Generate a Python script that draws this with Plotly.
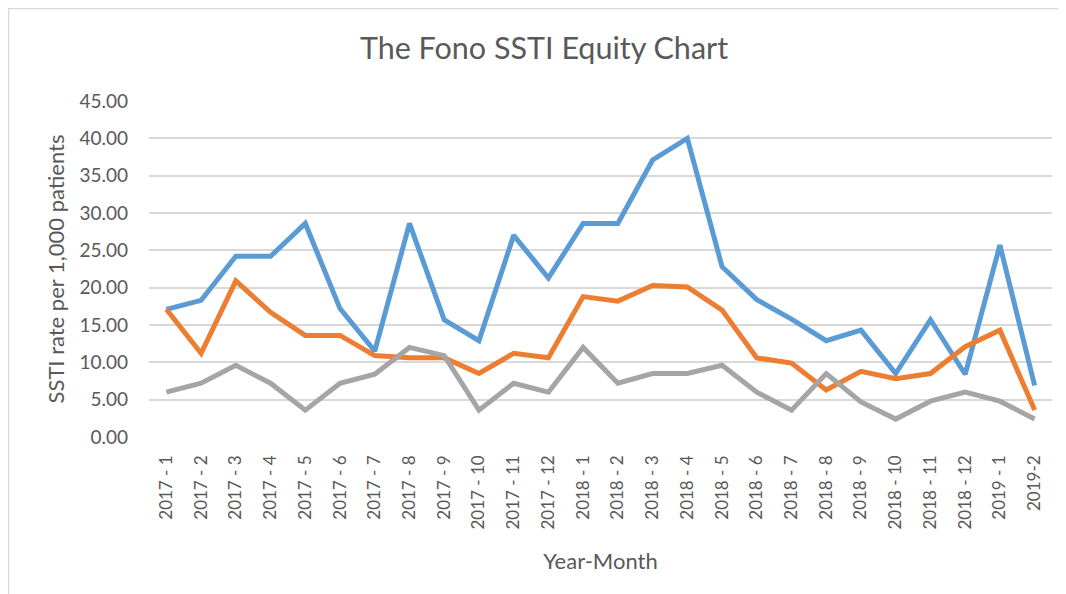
import plotly.graph_objects as go

categories = ["2017 - 1", "2017 - 2", "2017 - 3", "2017 - 4", "2017 - 5", "2017 - 6",
              "2017 - 7", "2017 - 8", "2017 - 9", "2017 - 10", "2017 - 11", "2017 - 12",
              "2018 - 1", "2018 - 2", "2018 - 3", "2018 - 4", "2018 - 5", "2018 - 6",
              "2018 - 7", "2018 - 8", "2018 - 9", "2018 - 10", "2018 - 11", "2018 - 12",
              "2019 - 1", "2019-2"]

blue_values = [17.1, 18.3, 24.2, 24.2, 28.6, 17.2, 11.5, 28.6, 15.7, 12.9, 27.0, 21.3,
               28.6, 28.6, 37.1, 40.0, 22.8, 18.4, 15.8, 12.9, 14.3, 8.5, 15.7, 8.4,
               25.7, 6.9]
orange_values = [17.1, 11.2, 20.9, 16.7, 13.6, 13.6, 10.9, 10.6, 10.6, 8.5, 11.2, 10.6,
                 18.8, 18.2, 20.3, 20.1, 17.0, 10.6, 9.9, 6.3, 8.8, 7.8, 8.5, 12.1,
                 14.3, 3.6]
grey_values = [6.0, 7.2, 9.6, 7.2, 3.6, 7.2, 8.4, 12.0, 10.9, 3.6, 7.2, 6.0,
               12.0, 7.2, 8.5, 8.5, 9.6, 6.0, 3.6, 8.5, 4.7, 2.4, 4.8, 6.0,
               4.8, 2.4]

y_ticks = [0, 5, 10, 15, 20, 25, 30, 35, 40, 45]

FONT = "Lato"
TXT = "#595959"

fig = go.Figure()
for vals, color in [(blue_values, "#5B9BD5"), (orange_values, "#ED7D31"), (grey_values, "#A5A5A5")]:
    fig.add_trace(go.Scatter(x=categories, y=vals, mode="lines",
                             line=dict(color=color, width=5), showlegend=False,
                             hoverinfo="x+y"))

# page body has an 8px margin; figure origin sits at page (8, 8)
W, H = 1058, 586
L, R, T, B = 141, 14, 93, 157
pw, ph = W - L - R, H - T - B

def px_x(p):
    return (p - L) / pw

def px_y(p):
    return (H - B - p) / ph

fig.add_shape(type="rect", xref="paper", yref="paper",
              x0=px_x(0.5), x1=px_x(1080), y0=px_y(620), y1=px_y(0.5),
              line=dict(color="#D9D9D9", width=1.5), fillcolor="rgba(0,0,0,0)", layer="below")

fig.update_layout(
    width=W, height=H,
    margin=dict(l=L, r=R, t=T, b=B),
    paper_bgcolor="white", plot_bgcolor="white",
    font=dict(family=FONT, color=TXT),
    title=dict(text="The Fono SSTI Equity Chart", x=536 / W, xanchor="center",
               y=1 - 40 / H, yanchor="middle", font=dict(size=30.5, color=TXT, family=FONT)),
    xaxis=dict(type="category", categoryorder="array", categoryarray=categories,
               range=[-0.5, len(categories) - 0.5], tickangle=-90,
               tickfont=dict(size=17, color=TXT), showgrid=False, showline=False,
               ticks="", ticklabelstandoff=14, zeroline=False,
               title=dict(text="Year-Month", font=dict(size=22, color=TXT), standoff=25)),
    yaxis=dict(range=[0, 45], tickvals=y_ticks, tickformat=".2f",
               tickfont=dict(size=19, color=TXT), showgrid=True, gridcolor="#D9D9D9",
               gridwidth=1.5, zeroline=False, showline=False, ticks="",
               ticklabelstandoff=20,
               title=dict(text="SSTI rate per 1,000 patients", font=dict(size=22, color=TXT),
                          standoff=8)),
)

fig.write_html("out.html")
